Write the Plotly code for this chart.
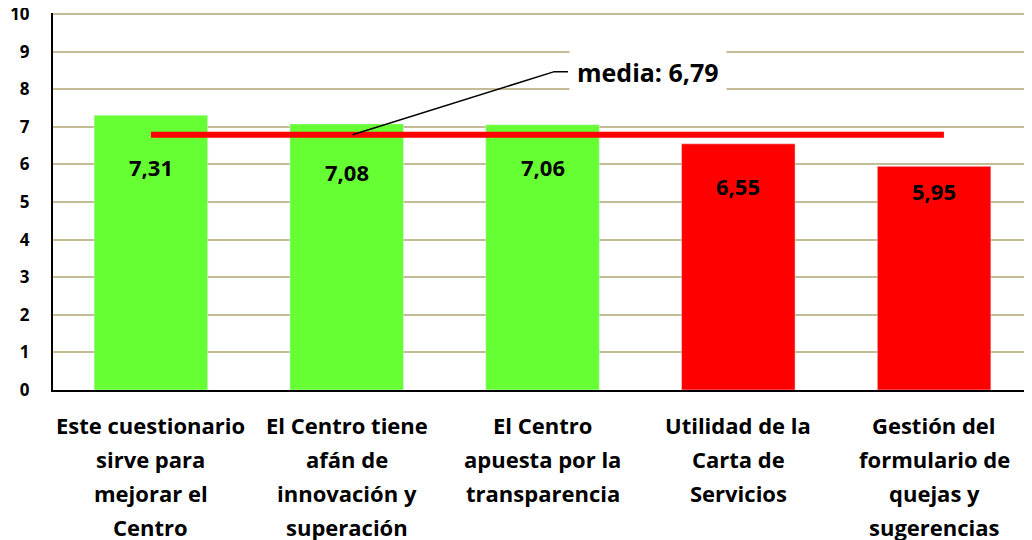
import plotly.graph_objects as go

# データ
CATEGORIES = [
    'Este cuestionario<br>sirve para<br>mejorar el<br>Centro',
    'El Centro tiene<br>afán de<br>innovación y<br>superación',
    'El Centro<br>apuesta por la<br>transparencia',
    'Utilidad de la<br>Carta de<br>Servicios',
    'Gestión del<br>formulario de<br>quejas y<br>sugerencias',
]
VALUES = [7.31, 7.08, 7.06, 6.55, 5.95]
MEAN = 6.79
Y_TICKS = list(range(0, 11))

# 値ラベルの位置調整（px）
LABEL_YSHIFT = [-52, -48, -42, -42, -25]

GREEN = '#66FF33'
RED = '#FF0000'
GRID = '#C4BC96'
FONT = 'Open Sans'

xs = list(range(len(VALUES)))
colors = [GREEN if v >= MEAN else RED for v in VALUES]
fmt = lambda v: f'{v:.2f}'.replace('.', ',')

fig = go.Figure()
fig.add_trace(go.Bar(x=xs, y=VALUES, marker_color=colors, width=0.58, showlegend=False, hoverinfo='skip'))

# 平均線
fig.add_trace(go.Scatter(x=[xs[0], xs[-1] + 0.05], y=[MEAN, MEAN], mode='lines',
                         line=dict(color=RED, width=6), showlegend=False, hoverinfo='skip'))

# 値ラベル
for x, v, dy in zip(xs, VALUES, LABEL_YSHIFT):
    fig.add_annotation(x=x, y=v, text=f'<b>{fmt(v)}</b>', showarrow=False, yanchor='middle', yshift=dy,
                       font=dict(family=FONT, size=22, color='black'))

# カテゴリラベル（行ごとに配置）
for x, lab in zip(xs, CATEGORIES):
    for i, line in enumerate(lab.split('<br>')):
        fig.add_annotation(x=x, xref='x', y=-0.093 - i * 0.09, yref='paper', text=f'<b>{line}</b>',
                           showarrow=False, yanchor='middle', font=dict(family=FONT, size=22, color='black'))

# 平均ラベル
fig.add_shape(type='path', path=f'M 1.03 {MEAN} L 2.06 8.47 L 2.13 8.47', xref='x', yref='y',
              line=dict(color='black', width=1.5))
fig.add_annotation(x=2.54, y=8.47, text=f'<b>media: {fmt(MEAN)}</b>', showarrow=False,
                   bgcolor='white', borderpad=7, font=dict(family=FONT, size=25, color='black'))

# ページ余白 8px を考慮した余白
fig.update_layout(
    width=1032, height=540, paper_bgcolor='white', plot_bgcolor='white',
    margin=dict(l=45, r=8, t=5, b=158),
    xaxis=dict(range=[-0.5, 4.5], showticklabels=False, showgrid=False, zeroline=False,
               showline=True, linecolor='black', linewidth=2, automargin=False),
    yaxis=dict(range=[0, 10.03], tickvals=Y_TICKS, showgrid=True, gridcolor=GRID, gridwidth=2,
               zeroline=False, showline=True, linecolor='black', linewidth=2, automargin=False,
               ticklabelstandoff=18, ticklabeloverflow='allow',
               tickfont=dict(family=FONT, size=17, color='black', weight='bold')),
)
fig.write_html('out.html')
